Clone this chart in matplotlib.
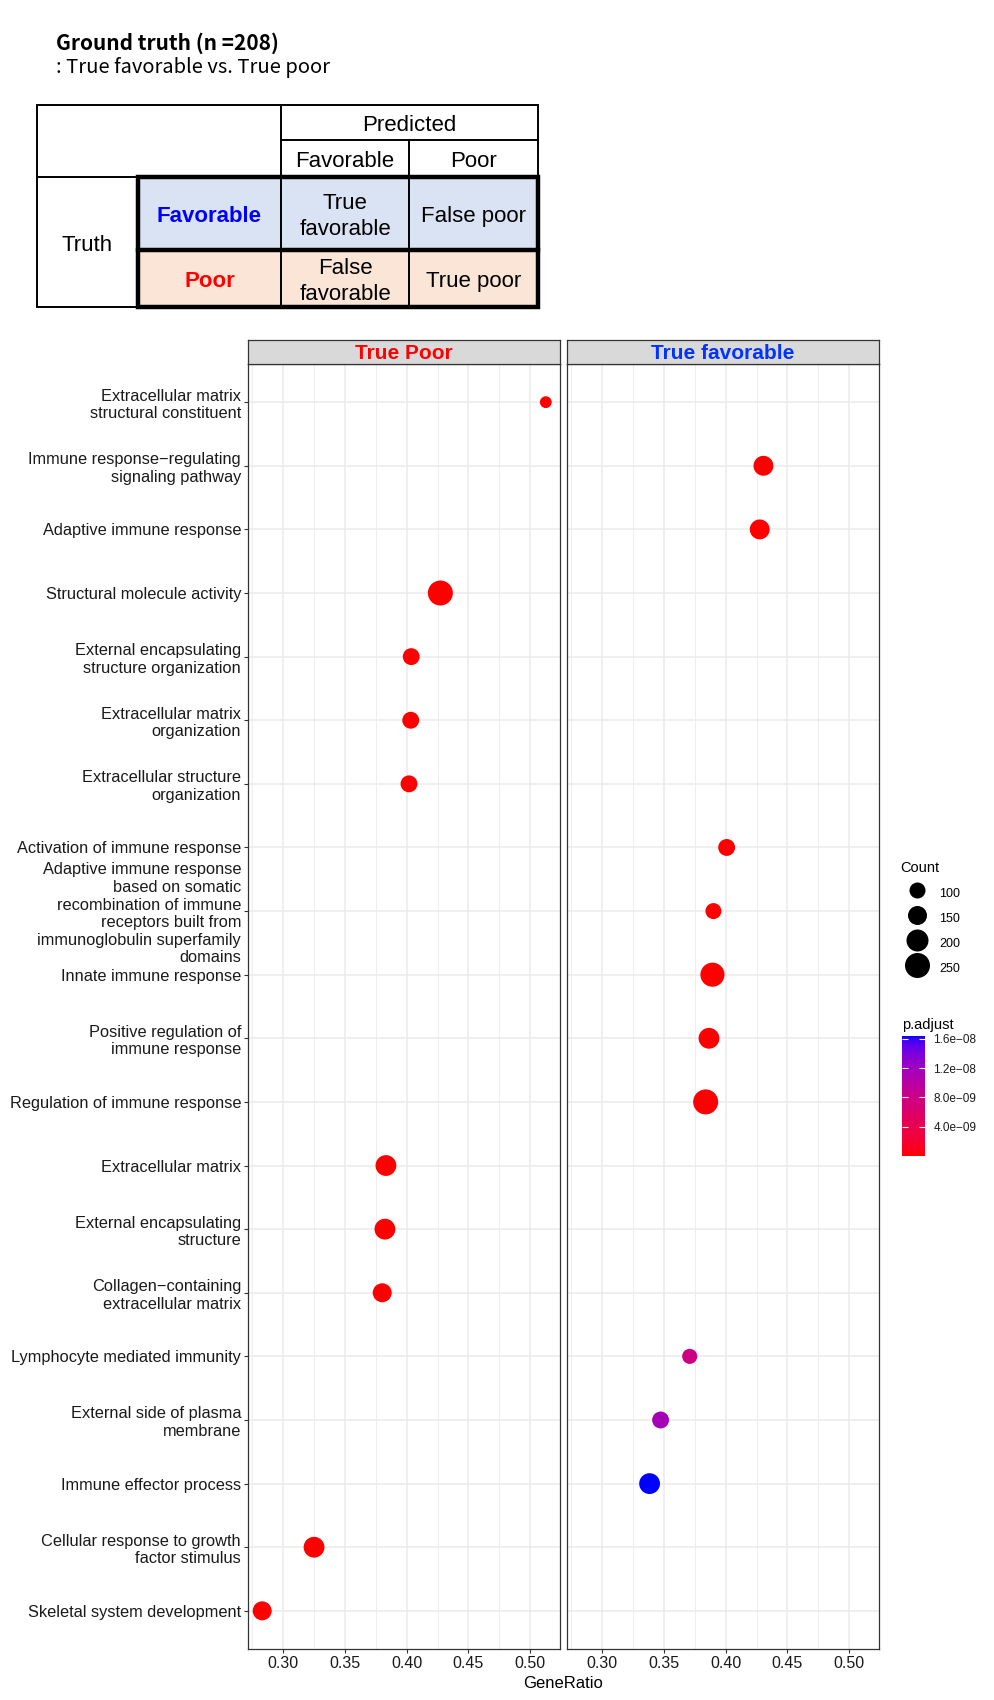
import numpy as np
import matplotlib
matplotlib.use("Agg")
import matplotlib.pyplot as plt
from matplotlib.colors import LinearSegmentedColormap, Normalize
from matplotlib.cm import ScalarMappable
from matplotlib.lines import Line2D
from matplotlib.patches import Rectangle

plt.rcParams['font.family'] = ['Liberation Sans', 'DejaVu Sans']

# ---- data (top to bottom as shown) ----
terms = [
    "Extracellular matrix\nstructural constituent",
    "Immune response\u2212regulating\nsignaling pathway",
    "Adaptive immune response",
    "Structural molecule activity",
    "External encapsulating\nstructure organization",
    "Extracellular matrix\norganization",
    "Extracellular structure\norganization",
    "Activation of immune response",
    "Adaptive immune response\nbased on somatic\nrecombination of immune\nreceptors built from\nimmunoglobulin superfamily\ndomains",
    "Innate immune response",
    "Positive regulation of\nimmune response",
    "Regulation of immune response",
    "Extracellular matrix",
    "External encapsulating\nstructure",
    "Collagen\u2212containing\nextracellular matrix",
    "Lymphocyte mediated immunity",
    "External side of plasma\nmembrane",
    "Immune effector process",
    "Cellular response to growth\nfactor stimulus",
    "Skeletal system development",
]
groups = ["Poor", "Fav", "Fav", "Poor", "Poor", "Poor", "Poor", "Fav", "Fav", "Fav",
          "Fav", "Fav", "Poor", "Poor", "Poor", "Fav", "Fav", "Fav", "Poor", "Poor"]
gene_ratio = [0.5127, 0.4306, 0.4276, 0.4273, 0.4037, 0.4033, 0.4019, 0.4008, 0.3901, 0.3893,
              0.3865, 0.3838, 0.3832, 0.3824, 0.3802, 0.3709, 0.3473, 0.3384, 0.3250, 0.2830]
counts = [30, 165, 165, 250, 115, 115, 115, 115, 100, 235,
          180, 250, 180, 180, 150, 85, 115, 180, 180, 150]
p_adjust = [1e-20, 3e-13, 2e-13, 1e-18, 2e-15, 2e-15, 3e-15, 5e-12, 3e-11, 4e-12,
            2e-12, 1e-12, 1e-16, 1e-16, 1e-15, 7.8e-9, 1.15e-8, 1.64e-8, 5e-12, 4e-11]

panels = ["Poor", "Fav"]
panel_titles = ["True Poor", "True favorable"]
panel_title_colors = ["#FF0000", "#0033FF"]
x_ticks = [0.30, 0.35, 0.40, 0.45, 0.50]
count_breaks = [100, 150, 200, 250]
p_breaks = [4e-9, 8e-9, 1.2e-8, 1.6e-8]

# confusion table texts
pred_header = "Predicted"
pred_labels = ["Favorable", "Poor"]
truth_header = "Truth"
truth_labels = ["Favorable", "Poor"]
truth_colors = ["#0000FF", "#FF0000"]
row_fills = ["#DAE3F3", "#FBE5D6"]
cells = [["True\nfavorable", "False poor"], ["False\nfavorable", "True poor"]]


# ---- red -> blue gradient in Lab space (like ggplot) ----
M = np.array([[0.4124, 0.3576, 0.1805], [0.2126, 0.7152, 0.0722], [0.0193, 0.1192, 0.9505]])
WHITE = np.array([0.95047, 1.0, 1.08883])


def srgb_to_lab(c):
    c = np.asarray(c, float)
    lin = np.where(c <= 0.04045, c / 12.92, ((c + 0.055) / 1.055) ** 2.4)
    xyz = M @ lin / WHITE
    f = np.where(xyz > 0.008856, np.cbrt(xyz), 7.787 * xyz + 16 / 116)
    return np.array([116 * f[1] - 16, 500 * (f[0] - f[1]), 200 * (f[1] - f[2])])


def lab_to_srgb(lab):
    L, a, b = lab
    fy = (L + 16) / 116
    f = np.array([fy + a / 500, fy, fy - b / 200])
    xyz = np.where(f ** 3 > 0.008856, f ** 3, (f - 16 / 116) / 7.787) * WHITE
    lin = np.clip(np.linalg.inv(M) @ xyz, 0, 1)
    c = np.where(lin <= 0.0031308, 12.92 * lin, 1.055 * lin ** (1 / 2.4) - 0.055)
    return np.clip(c, 0, 1)


lab_lo = srgb_to_lab([1, 0, 0])
lab_hi = srgb_to_lab([0, 0, 1])
cmap = LinearSegmentedColormap.from_list(
    "rb", [lab_to_srgb(lab_lo + t * (lab_hi - lab_lo)) for t in np.linspace(0, 1, 64)])
norm = Normalize(vmin=min(p_adjust), vmax=max(p_adjust))


def size_px(c):
    return 10 + 0.06 * np.asarray(c, float)


W, H = 994, 1700
fig = plt.figure(figsize=(W / 100, H / 100), dpi=100)


def fx(px):
    return px / W


def fy(py):
    return 1 - py / H


# ---- title ----
fig.text(fx(56), fy(43), "Ground truth (n =208)", fontsize=15, fontweight="bold",
         family=["Noto Sans CJK KR", "DejaVu Sans"], va="center", ha="left")
fig.text(fx(56), fy(68), ": True favorable vs. True poor", fontsize=14.5,
         family=["Noto Sans CJK KR", "DejaVu Sans"], va="center", ha="left")

# ---- confusion table ----
tab = fig.add_axes([0, 0, 1, 1], facecolor="none")
tab.set_xlim(0, W)
tab.set_ylim(H, 0)
tab.axis("off")
xs = [37, 138, 281, 409, 538]
ys = [105, 140, 177, 250, 307]
thin, thick = 1.4, 3.2
for i in range(2):
    tab.add_patch(Rectangle((xs[1], ys[2 + i]), xs[4] - xs[1], ys[3 + i] - ys[2 + i],
                            facecolor=row_fills[i], edgecolor="none"))
tab.add_patch(Rectangle((xs[0], ys[0]), xs[4] - xs[0], ys[4] - ys[0], fill=False, lw=thin, ec="black"))
tab.plot([xs[2], xs[4]], [ys[1], ys[1]], color="black", lw=thin)
tab.plot([xs[2], xs[2]], [ys[0], ys[4]], color="black", lw=thin)
tab.plot([xs[3], xs[3]], [ys[1], ys[4]], color="black", lw=thin)
tab.plot([xs[0], xs[1]], [ys[2], ys[2]], color="black", lw=thin)
tab.add_patch(Rectangle((xs[1], ys[2]), xs[4] - xs[1], ys[4] - ys[2], fill=False, lw=thick, ec="black"))
tab.plot([xs[1], xs[4]], [ys[3], ys[3]], color="black", lw=thick)

tfs = 16
dy = 3  # text sits a little lower than the geometric centre
tab.text((xs[2] + xs[4]) / 2, (ys[0] + ys[1]) / 2 + dy, pred_header, fontsize=tfs, ha="center", va="center")
for j, lab in enumerate(pred_labels):
    tab.text((xs[2 + j] + xs[3 + j]) / 2, (ys[1] + ys[2]) / 2 + dy, lab, fontsize=tfs, ha="center", va="center")
tab.text((xs[0] + xs[1]) / 2, (ys[2] + ys[4]) / 2 + dy, truth_header, fontsize=tfs, ha="center", va="center")
for i, lab in enumerate(truth_labels):
    yc = (ys[2 + i] + ys[3 + i]) / 2 + dy
    tab.text((xs[1] + xs[2]) / 2, yc, lab, fontsize=tfs, ha="center", va="center",
             fontweight="bold", color=truth_colors[i])
    for j in range(2):
        tab.text((xs[2 + j] + xs[3 + j]) / 2, yc, cells[i][j], fontsize=tfs, ha="center",
                 va="center", linespacing=1.3)

# ---- dot plot facets ----
n = len(terms)
ypos = np.arange(n)
xr = np.array(gene_ratio)
pad = 0.05 * (xr.max() - xr.min())
xlim = (xr.min() - pad, xr.max() + pad)
minor = [t + 0.025 for t in [0.25] + x_ticks]

panel_left = [248, 567]
panel_w = 312
top, bottom = 364, 1649
grid_c = "#EBEBEB"
for k, g in enumerate(panels):
    ax = fig.add_axes([fx(panel_left[k]), fy(bottom), fx(panel_w), (bottom - top) / H])
    ax.set_xlim(*xlim)
    ax.set_ylim(n - 1 + 0.6, -0.6)
    for t in minor:
        ax.axvline(t, color=grid_c, lw=0.6, zorder=0)
    for t in x_ticks:
        ax.axvline(t, color=grid_c, lw=1.1, zorder=0)
    for y in ypos:
        ax.axhline(y, color=grid_c, lw=1.1, zorder=0)
    idx = [i for i in range(n) if groups[i] == g]
    ax.scatter(xr[idx], ypos[idx], s=(size_px([counts[i] for i in idx]) * 0.72) ** 2,
               c=[p_adjust[i] for i in idx], cmap=cmap, norm=norm, linewidths=0, zorder=3)
    ax.set_xticks(x_ticks)
    ax.set_xticklabels([f"{t:.2f}" for t in x_ticks])
    ax.set_yticks(ypos)
    ax.tick_params(labelsize=11.5, length=3, width=0.8, color="#333333", labelcolor="#1A1A1A", pad=2)
    if k == 0:
        ax.set_yticklabels(terms, fontsize=11.8, linespacing=1.22)
    else:
        ax.set_yticklabels([])
        ax.tick_params(axis="y", length=0)
    for sp in ax.spines.values():
        sp.set_color("#333333")
        sp.set_linewidth(0.9)

    strip = fig.add_axes([fx(panel_left[k]), fy(top), fx(panel_w), 24 / H], facecolor="#D9D9D9")
    strip.set_xticks([])
    strip.set_yticks([])
    for sp in strip.spines.values():
        sp.set_color("#333333")
        sp.set_linewidth(0.9)
    strip.text(0.5, 0.45, panel_titles[k], transform=strip.transAxes, ha="center", va="center",
               fontsize=15, fontweight="bold", color=panel_title_colors[k])

fig.text(fx(563), fy(1683), "GeneRatio", ha="center", va="center", fontsize=12)

# ---- size legend ----
handles = [Line2D([], [], ls="", marker="o", color="black", markeredgewidth=0,
                  markersize=size_px(c) * 0.72) for c in count_breaks]
leg = fig.legend(handles, [str(c) for c in count_breaks], title="Count", loc="upper left",
                 bbox_to_anchor=(fx(900), fy(861)), frameon=False, fontsize=9, title_fontsize=10.5,
                 borderpad=0, borderaxespad=0, handlelength=2.65, handleheight=2.4,
                 labelspacing=0.2, handletextpad=0.5, alignment="left")
leg._legend_box.sep = 5  # a bit more room between title and keys

# ---- colour bar ----
cax = fig.add_axes([fx(902), fy(1156), fx(23), 120 / H])
cb = fig.colorbar(ScalarMappable(norm=norm, cmap=cmap), cax=cax)
cb.outline.set_visible(False)
cb.set_ticks(p_breaks)
cb.set_ticklabels([f"{v:.1e}".replace("-", "\u2212") for v in p_breaks])
cax.tick_params(direction="in", color="white", length=4, width=0.8, left=True, right=True,
                labelsize=8.5, labelcolor="#1A1A1A", pad=6)
cax.set_title("p.adjust", loc="left", fontsize=10.5, pad=5)

fig.savefig("out.png", dpi=100)
